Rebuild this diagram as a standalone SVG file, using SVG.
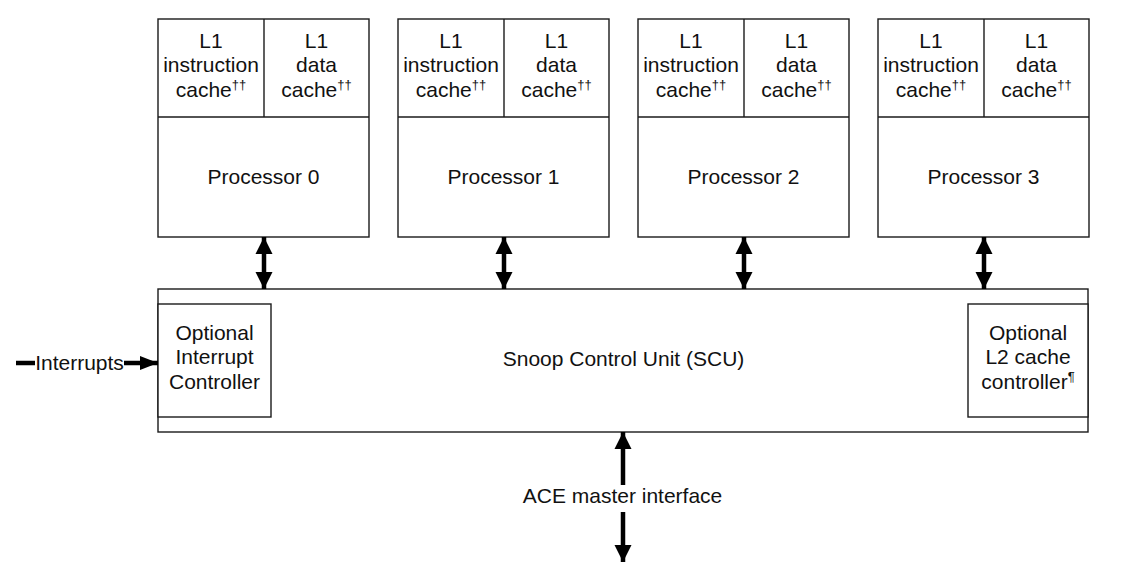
<svg xmlns="http://www.w3.org/2000/svg" width="1121" height="575" viewBox="0 0 1121 575">
<defs>
<style>
.box{fill:#fff;stroke:#1a1a1a;stroke-width:1.4}
.ln{stroke:#1a1a1a;stroke-width:1.4;fill:none}
.t{font-family:"Liberation Sans",Arial,sans-serif;font-size:21px;fill:#111;text-anchor:middle}
.sup{font-size:13px}
.arr{stroke:#000;stroke-width:4.5;fill:none}
</style>
<marker id="ah" markerUnits="userSpaceOnUse" markerWidth="18" markerHeight="18" viewBox="0 0 18 18" refX="17" refY="9" orient="auto-start-reverse">
<path d="M0,0.5 L17,9 L0,17.5 z" fill="#000"/>
</marker>
<marker id="ah2" markerUnits="userSpaceOnUse" markerWidth="18" markerHeight="16" viewBox="0 0 18 16" refX="18" refY="8" orient="auto">
<path d="M0,1 L18,8 L0,15 z" fill="#000"/>
</marker>
</defs>
<rect width="1121" height="575" fill="#fff"/>

<g id="processor0">
<rect class="box" x="158" y="19" width="211" height="218"/>
<line class="ln" x1="158" y1="117" x2="369" y2="117"/>
<line class="ln" x1="264" y1="19" x2="264" y2="117"/>
<text class="t" x="211" y="47.5">L1</text>
<text class="t" x="211" y="72">instruction</text>
<text class="t" x="211" y="96.5">cache<tspan class="sup" dy="-8">††</tspan></text>
<text class="t" x="316.5" y="47.5">L1</text>
<text class="t" x="316.5" y="72">data</text>
<text class="t" x="316.5" y="96.5">cache<tspan class="sup" dy="-8">††</tspan></text>
<text class="t" x="263.5" y="184">Processor 0</text>
</g>

<g id="processor1">
<rect class="box" x="398" y="19" width="211" height="218"/>
<line class="ln" x1="398" y1="117" x2="609" y2="117"/>
<line class="ln" x1="504" y1="19" x2="504" y2="117"/>
<text class="t" x="451" y="47.5">L1</text>
<text class="t" x="451" y="72">instruction</text>
<text class="t" x="451" y="96.5">cache<tspan class="sup" dy="-8">††</tspan></text>
<text class="t" x="556.5" y="47.5">L1</text>
<text class="t" x="556.5" y="72">data</text>
<text class="t" x="556.5" y="96.5">cache<tspan class="sup" dy="-8">††</tspan></text>
<text class="t" x="503.5" y="184">Processor 1</text>
</g>

<g id="processor2">
<rect class="box" x="638" y="19" width="211" height="218"/>
<line class="ln" x1="638" y1="117" x2="849" y2="117"/>
<line class="ln" x1="744" y1="19" x2="744" y2="117"/>
<text class="t" x="691" y="47.5">L1</text>
<text class="t" x="691" y="72">instruction</text>
<text class="t" x="691" y="96.5">cache<tspan class="sup" dy="-8">††</tspan></text>
<text class="t" x="796.5" y="47.5">L1</text>
<text class="t" x="796.5" y="72">data</text>
<text class="t" x="796.5" y="96.5">cache<tspan class="sup" dy="-8">††</tspan></text>
<text class="t" x="743.5" y="184">Processor 2</text>
</g>

<g id="processor3">
<rect class="box" x="878" y="19" width="211" height="218"/>
<line class="ln" x1="878" y1="117" x2="1089" y2="117"/>
<line class="ln" x1="984" y1="19" x2="984" y2="117"/>
<text class="t" x="931" y="47.5">L1</text>
<text class="t" x="931" y="72">instruction</text>
<text class="t" x="931" y="96.5">cache<tspan class="sup" dy="-8">††</tspan></text>
<text class="t" x="1036.5" y="47.5">L1</text>
<text class="t" x="1036.5" y="72">data</text>
<text class="t" x="1036.5" y="96.5">cache<tspan class="sup" dy="-8">††</tspan></text>
<text class="t" x="983.5" y="184">Processor 3</text>
</g>

<g id="scu">
<rect class="box" x="158" y="289" width="930" height="143"/>
<text class="t" x="623.5" y="366">Snoop Control Unit (SCU)</text>
</g>

<g id="interrupt-controller">
<rect class="box" x="158" y="304" width="113" height="113"/>
<text class="t" x="214.5" y="339.5">Optional</text>
<text class="t" x="214.5" y="364">Interrupt</text>
<text class="t" x="214.5" y="388.5">Controller</text>
</g>

<g id="l2-controller">
<rect class="box" x="968" y="304" width="120" height="113"/>
<text class="t" x="1028" y="339.5">Optional</text>
<text class="t" x="1028" y="364">L2 cache</text>
<text class="t" x="1028" y="388.5">controller<tspan class="sup" dy="-8">¶</tspan></text>
</g>

<g id="connectors">
<line class="arr" x1="264" y1="237" x2="264" y2="289" marker-start="url(#ah)" marker-end="url(#ah)"/>
<line class="arr" x1="504" y1="237" x2="504" y2="289" marker-start="url(#ah)" marker-end="url(#ah)"/>
<line class="arr" x1="744" y1="237" x2="744" y2="289" marker-start="url(#ah)" marker-end="url(#ah)"/>
<line class="arr" x1="984" y1="237" x2="984" y2="289" marker-start="url(#ah)" marker-end="url(#ah)"/>
<line class="arr" x1="623" y1="485" x2="623" y2="432" marker-end="url(#ah)"/>
<line class="arr" x1="623" y1="512" x2="623" y2="562" marker-end="url(#ah)"/>
<text class="t" x="622.5" y="503">ACE master interface</text>
<line class="arr" x1="16" y1="363" x2="35" y2="363"/>
<line class="arr" x1="124" y1="363" x2="158" y2="363" marker-end="url(#ah2)"/>
<text class="t" x="79.5" y="369.5">Interrupts</text>
</g>
</svg>
